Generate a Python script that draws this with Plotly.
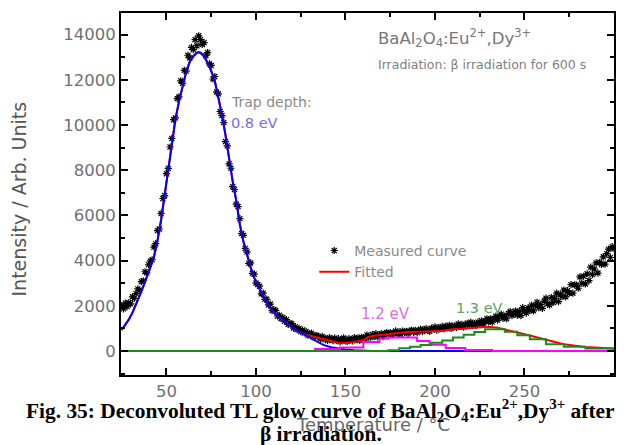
import plotly.graph_objects as go

# ---- measured TL glow curve (1 degC steps, 25..300 degC) ----
temp_measured = list(range(25, 301))
intensity_measured = [
    2010, 1870, 2120, 1970, 2140, 2090, 2400, 2330, 2540, 2750,
    2690, 3070, 3110, 3510, 3460, 3820, 3980, 4040, 4600, 4750,
    5330, 5400, 6090, 6750, 6880, 7850, 8080, 9030, 9410, 10240,
    10320, 11170, 11250, 11960, 11850, 12420, 12390, 13090, 12970, 13440,
    13340, 13780, 13510, 13950, 13780, 13570, 13650, 13070, 13210, 12710,
    12640, 12040, 12150, 11460, 11380, 10600, 10420, 10110, 9270, 9080,
    8280, 8090, 7280, 7150, 6500, 6390, 5860, 5200, 5120, 4540,
    4380, 3880, 3900, 3440, 3400, 3010, 2940, 2870, 2530, 2560,
    2290, 2290, 2040, 2080, 1790, 1830, 1800, 1550, 1580, 1430,
    1490, 1320, 1390, 1180, 1210, 1210, 1010, 1080, 950, 1000,
    860, 930, 800, 870, 700, 770, 790, 620, 680, 690,
    650, 530, 650, 540, 560, 470, 590, 550, 460, 570,
    470, 550, 410, 510, 580, 450, 430, 550, 510, 450,
    590, 500, 580, 470, 610, 590, 540, 710, 620, 610,
    730, 640, 770, 630, 730, 770, 640, 770, 820, 730,
    820, 720, 810, 890, 760, 845, 740, 885, 820, 875,
    770, 885, 930, 830, 920, 820, 910, 970, 860, 950,
    990, 900, 870, 1010, 980, 1070, 930, 1040, 990, 1090,
    980, 1100, 1030, 1140, 1000, 1120, 1100, 1040, 1200, 1090,
    1180, 1060, 1180, 1230, 1130, 1280, 1130, 1220, 1140, 1280,
    1190, 1340, 1200, 1320, 1430, 1290, 1420, 1280, 1440, 1540,
    1370, 1520, 1630, 1450, 1550, 1430, 1660, 1750, 1570, 1660,
    1770, 1590, 1760, 1570, 1920, 1780, 1680, 1910, 1790, 2030,
    1780, 2010, 2160, 1920, 2060, 1890, 2210, 2340, 2090, 2040,
    2370, 2150, 2340, 2560, 2190, 2500, 2410, 2700, 2400, 2670,
    2560, 2940, 2560, 2930, 2920, 2780, 3280, 3000, 3310, 2970,
    3420, 3120, 3710, 3390, 3630, 3900, 3450, 3930, 3830, 4170,
    3850, 4310, 4510, 4140, 4620, 4530,
]

# ---- 0.8 eV component ----
temp_peak1 = [25, 27, 29, 31, 33, 35, 37, 39, 41, 43, 45, 47, 49, 51, 53, 55, 57, 59,
              61, 63, 65, 67, 68, 69, 71, 73, 75, 77, 79, 81, 83, 85, 87, 89, 91, 93,
              95, 97, 99, 101, 103, 105, 107, 109, 111, 113, 115, 117, 120, 123, 126,
              129, 132, 135, 138, 142, 146, 150, 155, 160, 165, 232]
intensity_peak1 = [930, 1150, 1400, 1700, 2050, 2450, 2850, 3250, 3700, 4160, 4900, 5800,
                   6900, 8200, 9300, 10250, 11050, 11750, 12350, 12800, 13050, 13200,
                   13220, 13200, 13050, 12750, 12400, 11950, 11250, 10450, 9550, 8500,
                   7500, 6650, 5600, 4850, 4250, 3700, 3250, 2900, 2550, 2250, 2000,
                   1800, 1620, 1480, 1350, 1220, 1050, 900, 780, 650, 520, 380, 260,
                   170, 110, 70, 40, 20, 0, 0]

# ---- fitted sum ----
temp_fit = [25, 27, 29, 31, 33, 35, 37, 39, 41, 43, 45, 47, 49, 51, 53, 55, 57, 59,
            61, 63, 65, 67, 68, 69, 71, 73, 75, 77, 79, 81, 83, 85, 87, 89, 91, 93,
            95, 97, 99, 101, 103, 105, 107, 109, 111, 113, 115, 117, 120, 123, 126,
            129, 132, 135, 138, 142, 146, 150, 155, 160, 163, 167, 171, 175, 180,
            185, 195, 204, 210, 218, 224, 230, 235, 240, 246, 253, 262, 272, 284, 300]
intensity_fit = [930, 1150, 1400, 1700, 2050, 2450, 2850, 3250, 3700, 4160, 4900, 5800,
                 6900, 8200, 9300, 10250, 11050, 11750, 12350, 12800, 13050, 13200,
                 13220, 13200, 13050, 12750, 12400, 11950, 11250, 10450, 9550, 8500,
                 7500, 6650, 5600, 4850, 4250, 3700, 3250, 2900, 2550, 2250, 2000,
                 1800, 1620, 1480, 1350, 1220, 1050, 900, 780, 700, 640, 580, 500,
                 420, 370, 360, 400, 480, 640, 690, 720, 780, 800, 840, 860, 900,
                 960, 1000, 1050, 1070, 1030, 940, 830, 690, 500, 300, 180, 110]

# ---- 1.2 eV component ----
temp_peak2 = [25, 133, 147, 160, 169, 174, 190, 197, 206, 217, 232, 300]
intensity_peak2 = [0, 90, 160, 400, 560, 600, 450, 280, 140, 50, 0, 0]

# ---- 1.3 eV component ----
temp_peak3 = [25, 174, 180, 186, 192, 198, 204, 210, 216, 222, 228, 239, 246, 253,
              262, 272, 284, 300]
intensity_peak3 = [0, 40, 120, 190, 270, 370, 470, 600, 720, 840, 960, 850, 700, 520,
                   300, 190, 110, 110]

x_ticks = [50, 100, 150, 200, 250, 300]
y_ticks = [0, 2000, 4000, 6000, 8000, 10000, 12000, 14000]

GREY_FONT = "DejaVu Sans"
TICK_GREY = "#707070"

fig = go.Figure()

fig.add_trace(go.Scatter(
    x=temp_measured, y=intensity_measured, mode="markers", name="Measured curve",
    marker=dict(symbol="asterisk-open", size=6, color="black",
                line=dict(color="black", width=1.2)),
))
fig.add_trace(go.Scatter(
    x=temp_fit, y=intensity_fit, mode="lines", name="Fitted",
    line=dict(color="#ff0000", width=2),
))
fig.add_trace(go.Scatter(
    x=temp_peak1, y=intensity_peak1, mode="lines", showlegend=False,
    line=dict(color="#0000ff", width=2),
))
fig.add_trace(go.Scatter(
    x=temp_peak2, y=intensity_peak2, mode="lines", showlegend=False,
    line=dict(color="#ff00ff", width=2, shape="hv"),
))
fig.add_trace(go.Scatter(
    x=temp_peak3, y=intensity_peak3, mode="lines", showlegend=False,
    line=dict(color="#1a8c1a", width=2, shape="hv"),
))

axis_common = dict(
    showline=True, linecolor="black", linewidth=2, mirror="ticks",
    ticks="inside", ticklen=7, tickwidth=1.5, tickcolor="black",
    showgrid=False, zeroline=False,
    tickfont=dict(family=GREY_FONT, size=16.5, color=TICK_GREY),
)

fig.update_xaxes(
    range=[24.6, 300], tickvals=x_ticks, ticktext=[str(v) for v in x_ticks],
    minor=dict(dtick=25, tick0=25, ticks="inside", ticklen=4, tickcolor="black", tickwidth=1.5),
    **axis_common,
)
fig.update_yaxes(
    range=[-1060, 14960], tickvals=y_ticks, ticktext=[str(v) for v in y_ticks],
    minor=dict(dtick=1000, tick0=1000, ticks="inside", ticklen=4, tickcolor="black", tickwidth=1.5),
    **axis_common,
)


def label(text, x, y, size, color, family=GREY_FONT, xanchor="left", **kw):
    fig.add_annotation(text=text, x=x, y=y, xref="paper", yref="paper",
                       xanchor=xanchor, yanchor="middle", showarrow=False,
                       font=dict(family=family, size=size, color=color), **kw)


label("BaAl<sub>2</sub>O<sub>4</sub>:Eu<sup>2+</sup>,Dy<sup>3+</sup>", 0.517, 0.931, 16.5, "#777777")
label("Irradiation: β irradiation for 600 s", 0.517, 0.859, 12.5, "#808080")
label("Trap depth:", 0.220, 0.754, 14, "#8a8a8a")
label("0.8 eV", 0.220, 0.6975, 14.5, "#6f6fe8")
label("1.2 eV", 0.483, 0.1685, 15, "#e070e0")
label("1.3 eV", 0.675, 0.186, 14.5, "#60a060")

# axis titles
label("Intensity / Arb. Units", -0.206, 0.486, 19, "#555555", xanchor="center", textangle=-90)
label("Temperature / °C", 0.511, -0.138, 18, "#666666", xanchor="center")

# figure caption, two lines
CAPTION_FONT = "Liberation Serif"
label("<b>Fig. 35: Deconvoluted TL glow curve of BaAl<sub>2</sub>O<sub>4</sub>:Eu<sup>2+</sup>,"
      "Dy<sup>3+</sup> after</b>", 0.404, -0.097, 21.4, "black", family=CAPTION_FONT,
      xanchor="center")
label("<b>β irradiation.</b>", 0.406, -0.164, 21.4, "black", family=CAPTION_FONT,
      xanchor="center")

fig.update_layout(
    width=625, height=445,
    margin=dict(l=121, r=9, t=13, b=70),
    paper_bgcolor="white", plot_bgcolor="white",
    legend=dict(x=0.392, y=0.387, xanchor="left", yanchor="top",
                bgcolor="rgba(0,0,0,0)", borderwidth=0,
                font=dict(family=GREY_FONT, size=14, color="#8a8a8a"),
                tracegroupgap=0, itemwidth=30),
)

fig.write_html("out.html")
